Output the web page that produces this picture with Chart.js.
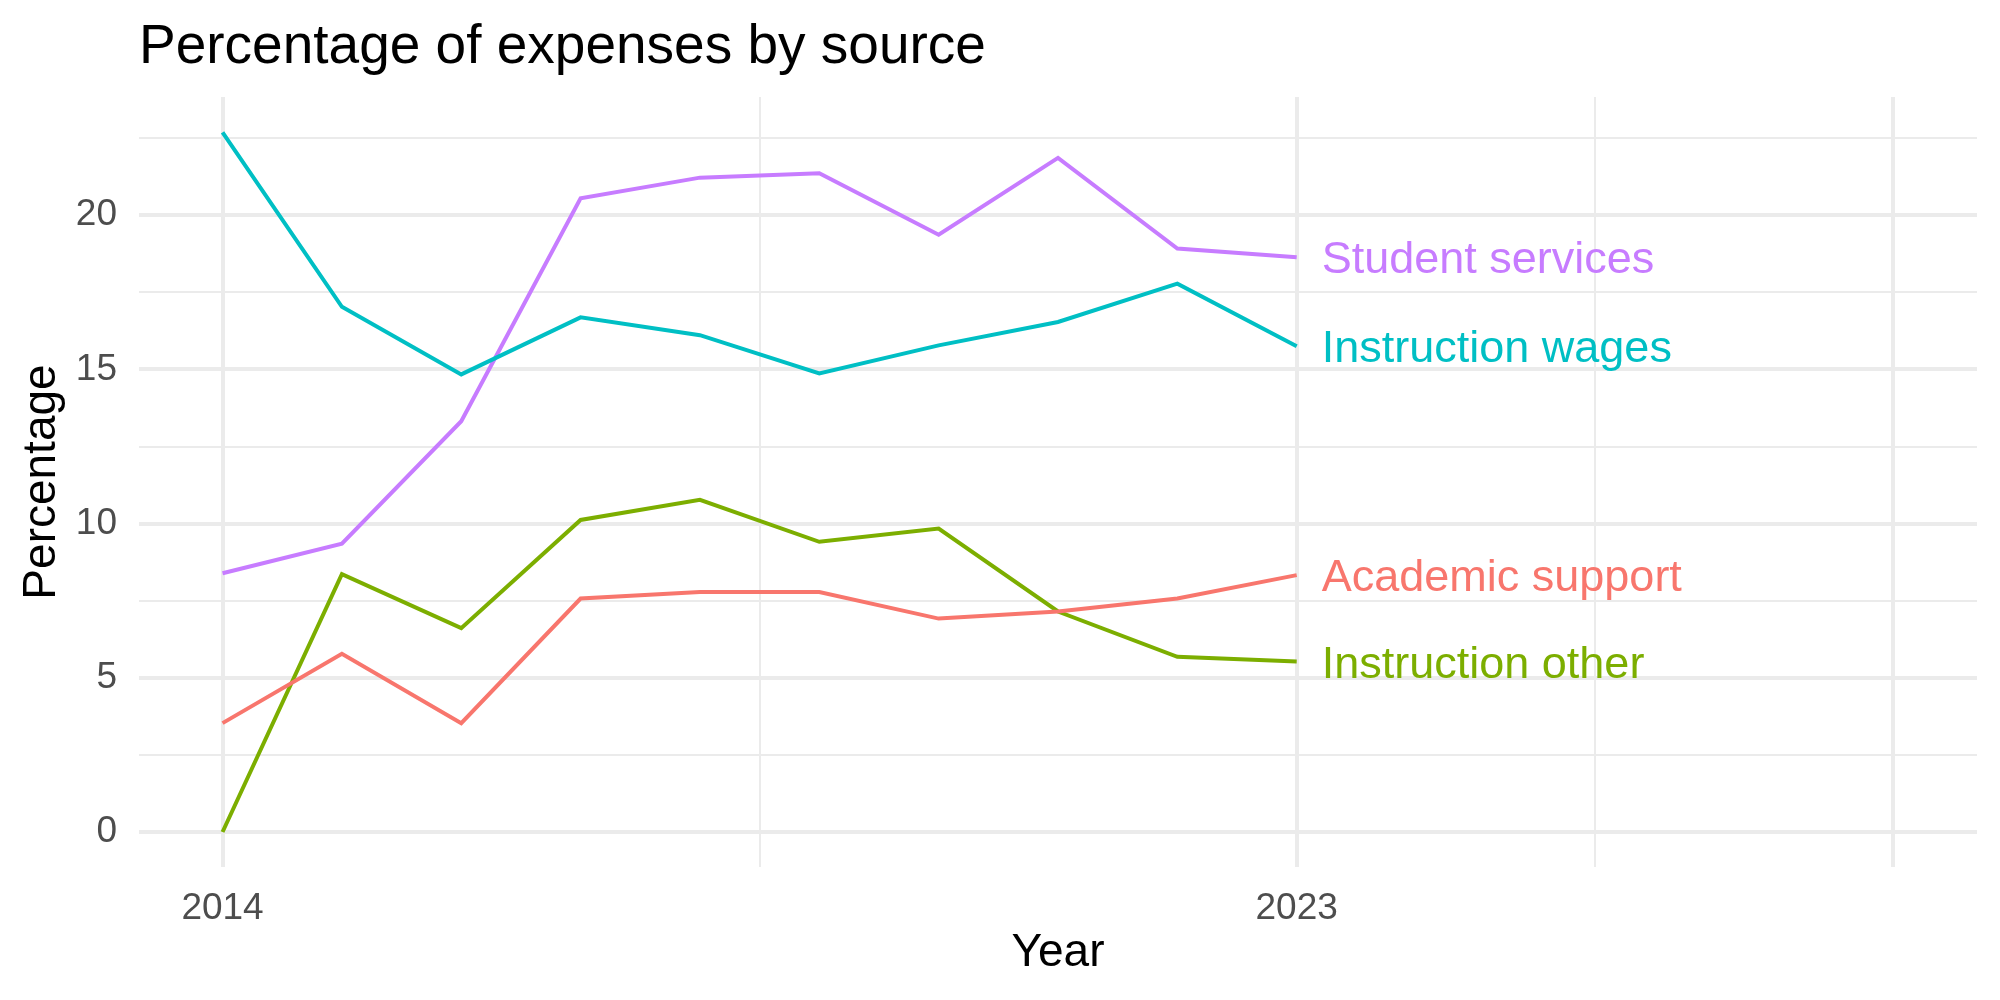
<!DOCTYPE html>
<html>
<head>
<meta charset="utf-8">
<title>Percentage of expenses by source</title>
<script src="https://cdn.jsdelivr.net/npm/chart.js@4/dist/chart.umd.min.js"></script>
<style>
  html, body { margin: 0; padding: 0; background: #fff; }
  #wrap { width: 2000px; height: 1000px; position: relative; }
</style>
</head>
<body>
<div id="wrap"><canvas id="expenses"></canvas></div>
<script>
// values
const years = [2014, 2015, 2016, 2017, 2018, 2019, 2020, 2021, 2022, 2023];
const academicSupport   = [3.53, 5.78, 3.53, 7.57, 7.78, 7.78, 6.92, 7.15, 7.57, 8.33];
const instructionOther  = [0.00, 8.36, 6.61, 10.12, 10.77, 9.41, 9.84, 7.15, 5.68, 5.53];
const instructionWages  = [22.69, 17.03, 14.84, 16.69, 16.11, 14.87, 15.78, 16.54, 17.78, 15.75];
const studentServices   = [8.39, 9.35, 13.32, 20.55, 21.22, 21.36, 19.37, 21.86, 18.92, 18.64];

const seriesNames  = ["Academic support", "Instruction other", "Instruction wages", "Student services"];
const seriesColors = ["#F8766D", "#7CAE00", "#00BFC4", "#C77CFF"];

// axis breaks
const xMajor = [2014, 2023, 2028];
const xMinor = [2018.5, 2025.5];
const xLabels = [2014, 2023];
const yMajor = [0, 5, 10, 15, 20];
const yMinor = [2.5, 7.5, 12.5, 17.5, 22.5];

const FONT = '"Liberation Sans", Arial, Helvetica, sans-serif';
Chart.defaults.font.family = FONT;

document.addEventListener("DOMContentLoaded", function() {
    const allSeries = [academicSupport, instructionOther, instructionWages, studentServices];

    const datasets = allSeries.map(function(vals, i) {
        return {
            label: seriesNames[i],
            data: years.map((y, j) => ({ x: y, y: vals[j] })),
            borderColor: seriesColors[i],
            backgroundColor: seriesColors[i],
            borderWidth: 4,
            pointRadius: 0,
            tension: 0,
            fill: false,
        };
    });

    // titles and the end-of-line labels
    const textPlugin = {
        id: 'textPlugin',
        afterDraw(chart) {
            const ctx = chart.ctx;
            const xs = chart.scales.x, ys = chart.scales.y;
            ctx.save();
            ctx.textBaseline = 'alphabetic';

            ctx.fillStyle = '#000';
            ctx.textAlign = 'left';
            ctx.font = '55px ' + FONT;
            ctx.fillText('Percentage of expenses by source', chart.chartArea.left, 63);

            ctx.font = '46px ' + FONT;
            ctx.textAlign = 'center';
            ctx.fillText('Year', (chart.chartArea.left + chart.chartArea.right) / 2, 966);

            ctx.save();
            ctx.translate(55, (chart.chartArea.top + chart.chartArea.bottom) / 2);
            ctx.rotate(-Math.PI / 2);
            ctx.fillText('Percentage', 0, 0);
            ctx.restore();

            // labels next to last point of every series
            ctx.font = '45px ' + FONT;
            ctx.textAlign = 'left';
            const lastYear = years[years.length - 1];
            allSeries.forEach(function(vals, i) {
                const px = xs.getPixelForValue(lastYear) + 25;
                const py = ys.getPixelForValue(vals[vals.length - 1]) + 45 * 0.358;
                ctx.fillStyle = seriesColors[i];
                ctx.fillText(seriesNames[i], px, py);
            });
            ctx.restore();
        }
    };

    const ctx = document.getElementById('expenses').getContext('2d');
    const chart = new Chart(ctx, {
        type: 'line',
        data: { datasets: datasets },
        options: {
            responsive: true,
            maintainAspectRatio: false,
            animation: false,
            layout: { padding: { left: 0, right: 23, top: 97, bottom: 0 } },
            plugins: {
                legend: { display: false },
                tooltip: { enabled: false },
            },
            scales: {
                x: {
                    type: 'linear',
                    min: 2013.3,
                    max: 2028.7,
                    border: { display: false },
                    grid: {
                        color: '#EBEBEB',
                        drawTicks: false,
                        lineWidth: (c) => (c.tick && xMajor.includes(c.tick.value)) ? 4 : 2,
                    },
                    afterBuildTicks: (scale) => {
                        scale.ticks = xMajor.concat(xMinor).sort((a, b) => a - b).map(v => ({ value: v }));
                    },
                    afterFit: (scale) => { scale.height = 133; },
                    ticks: {
                        autoSkip: false,
                        maxRotation: 0,
                        padding: 20,
                        color: '#4D4D4D',
                        font: { size: 37 },
                        callback: (v) => xLabels.includes(v) ? String(v) : '',
                    },
                },
                y: {
                    type: 'linear',
                    min: -1.135,
                    max: 23.835,
                    border: { display: false },
                    grid: {
                        color: '#EBEBEB',
                        drawTicks: false,
                        lineWidth: (c) => (c.tick && yMajor.includes(c.tick.value)) ? 4 : 2,
                    },
                    afterBuildTicks: (scale) => {
                        scale.ticks = yMajor.concat(yMinor).sort((a, b) => a - b).map(v => ({ value: v }));
                    },
                    afterFit: (scale) => { scale.width = 139; },
                    ticks: {
                        autoSkip: false,
                        padding: 22,
                        color: '#4D4D4D',
                        font: { size: 37 },
                        callback: (v) => yMajor.includes(v) ? String(v) : '',
                    },
                },
            },
        },
        plugins: [textPlugin],
    });
});
</script>
</body>
</html>
